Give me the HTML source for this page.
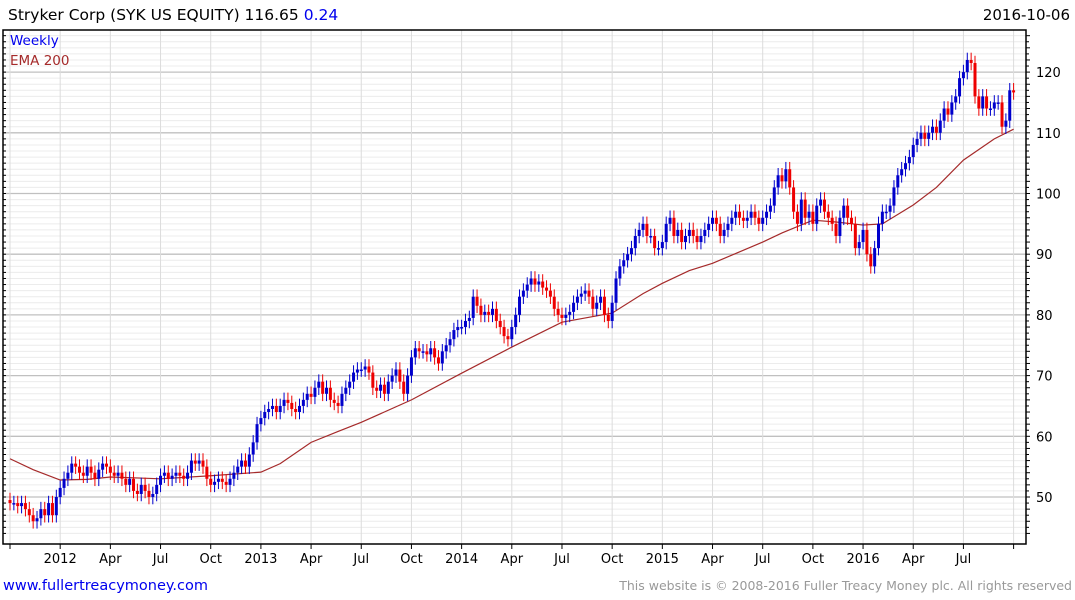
<!DOCTYPE html>
<html><head><meta charset="utf-8"><style>
body{margin:0;background:#fff;width:1075px;height:600px;overflow:hidden;font-family:"DejaVu Sans","Liberation Sans",sans-serif}
svg{display:block}
</style></head><body>
<svg id="c" width="1075" height="600" xmlns="http://www.w3.org/2000/svg">
<g id="grid"></g>
<g id="ema"></g>
<g id="candles"></g>
<g id="axes"></g>
<text x="8" y="20" font-size="15.5" fill="#000">Stryker Corp (SYK US EQUITY) 116.65 <tspan fill="#0000ee">0.24</tspan></text>
<text x="1070" y="20" font-size="15" fill="#000" text-anchor="end">2016-10-06</text>
<text x="10" y="45" font-size="13.5" fill="#0000ee">Weekly</text>
<text x="10" y="65" font-size="13.5" fill="#a52a2a">EMA 200</text>
<text x="3" y="590" font-size="14.5" fill="#0000ee">www.fullertreacymoney.com</text>
<text x="1072" y="590" font-size="12.5" fill="#999" text-anchor="end">This website is © 2008-2016 Fuller Treacy Money plc. All rights reserved</text>
</svg>
<script>
const closes=[49,49,48.5,49,48,47,46,46.5,48,47,49,47,50,
51.5,53,54,55.5,55,54,53.5,55,54,53,54.5,55.5,55,
54,53.5,54,53,52,53,51,50.5,52,51,50,50.5,52,
53.5,54,53,53.5,54,53.5,53,54,56,55.5,56,55,53,
52,52.5,53,52.5,52,53,54,55,56,55,57,59,62,
63,64,64.5,65,64,65,66,65.5,64.5,64,65,66,67,
66.5,68,69,67,68,66,65.5,65,67,68,69,70.5,71,
71,71.5,70.5,68,67.5,68.5,67,69,70,71,69,67,70,
73,74.5,74,74,73.5,74.5,73,72,74,75,76,77.5,78,
78,79,79.5,83,81.5,80,80.5,80,81,79,78,76.5,76,
78,80,83,84,85,86,85,85.5,84.5,84,83,81,80,
79.5,80,80.5,82,83,83.5,84,83,81,82,83,80,79,
82,86,88,89,90,91,93,94,95,93,93,91,91,
92,95,96,93,94,92,93,94,93,92,93,94,95,
96,95,93,94,95,96,97,96,95.5,96,97,96,95,
96,97,98,101,103,102,104,101,97,95,99,96,97,
95,98,99,97,96,95,93,96,98,96,95,91,92,
94,90,88,91,95,97,97,98,101,103,104,105,106,
108,109,110,109,110,111,110,112,114,113,115,116,119,
120,122,121.5,116,114,116,114,114,115,115,111,112,117,
116.65];
const firstOpen=49.5;
const emaWeeks=[0,6,13,20,26,39,52,65,70,78,85,91,104,117,130,143,156,164,169,176,182,195,200,208,214,221,226,234,240,247,255,260];
const emaVals=[56.3,54.5,52.8,52.9,53.3,53.0,53.5,54.1,55.5,59.0,60.8,62.3,66,70.4,74.7,78.8,80.3,83.5,85.2,87.3,88.5,92,93.5,95.6,95.3,94.8,95.0,98.1,101,105.5,109,110.6];
const yTicks=[50,60,70,80,90,100,110,120];
const xLabels=["2012","Apr","Jul","Oct","2013","Apr","Jul","Oct","2014","Apr","Jul","Oct","2015","Apr","Jul","Oct","2016","Apr","Jul"];
const xLabelWeeks=[13,26,39,52,65,78,91,104,117,130,143,156,169,182,195,208,221,234,247];

const NS="http://www.w3.org/2000/svg";
const L=3,R=1026,T=30,B=544;
const X=i=>10+i*3.86;
const Y=v=>497-(v-50)*6.07;
function mk(tag,at,parent){const e=document.createElementNS(NS,tag);for(const k in at)e.setAttribute(k,at[k]);document.getElementById(parent).appendChild(e);return e;}
for(let v=44;v<=126;v++){const y=Y(v);if(y<T||y>B)continue;
 const e=mk('line',{x1:L,x2:R,y1:y,y2:y,stroke:v%10===0?'#c0c0c0':'#ececec','stroke-width':v%10===0?1.3:1},'grid');
 
 
 const t=mk('line',{x1:R,x2:R+(v%2===0?4:3),y1:y,y2:y,stroke:'#000'},'axes');
 
 
 const t2=mk('line',{x1:L,x2:L+3,y1:y,y2:y,stroke:'#000'},'axes');
 
 
}
const vWeeks=[0].concat(xLabelWeeks,[260]);
vWeeks.forEach(w=>{const x=X(w);
 const e=mk('line',{x1:x,x2:x,y1:T,y2:B,stroke:'#dcdcdc'},'grid');
 
 
 const t=mk('line',{x1:x,x2:x,y1:B,y2:B+5,stroke:'#000'},'axes');
 
 
});
xLabels.forEach((s,k)=>{const t=mk('text',{x:X(xLabelWeeks[k]),y:563,'font-size':13,'text-anchor':'middle',fill:'#000'},'axes');t.textContent=s;
 
 });
yTicks.forEach(v=>{const t=mk('text',{x:1036,y:Y(v)+5,'font-size':13,fill:'#000'},'axes');t.textContent=v;
 
 });
const fr=mk('path',{d:`M${L} ${T}H${R}V${B}H${L}Z`,fill:'none',stroke:'#000','stroke-width':1.5},'axes');


const ep=mk('polyline',{points:emaWeeks.map((w,k)=>X(w)+','+Y(emaVals[k])).join(' '),fill:'none',stroke:'#a52a2a','stroke-width':1.2},'ema');


closes.forEach((c,i)=>{const o=i===0?firstOpen:closes[i-1];const up=c>=o;const col=up?'#0000cc':'#ee0000';
 const hi=Math.max(o,c)+1.2,lo=Math.min(o,c)-1.2;const x=X(i);
 const w=mk('line',{x1:x,x2:x,y1:Y(hi),y2:Y(lo),stroke:col,'stroke-width':1},'candles');
 
 
 const h=Math.max(1.5,Math.abs(Y(o)-Y(c)));
 const r=mk('rect',{x:x-1.5,y:Math.min(Y(o),Y(c)),width:3,height:h,fill:col},'candles');
 
 
});
</script>
</body></html>
